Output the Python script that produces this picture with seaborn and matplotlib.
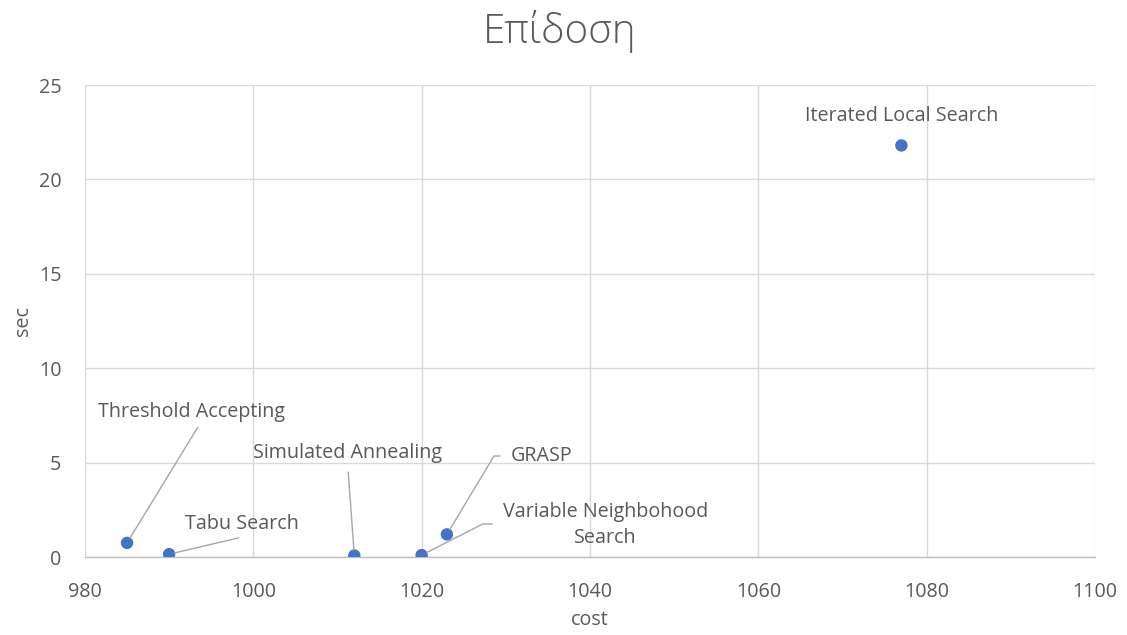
import matplotlib
matplotlib.use("Agg")
import matplotlib.pyplot as plt
import seaborn as sns
import pandas as pd

# Algorithm performance: solution cost vs. runtime in seconds
algorithms = ["Threshold Accepting", "Tabu Search", "Simulated Annealing",
              "Variable Neighbohood\nSearch", "GRASP", "Iterated Local Search"]
cost = [985, 990, 1012, 1020, 1023, 1077]
sec = [0.75, 0.15, 0.08, 0.1, 1.2, 21.8]

x_ticks = [980, 1000, 1020, 1040, 1060, 1080, 1100]
y_ticks = [0, 5, 10, 15, 20, 25]

# label placement (data coords), leader-line style per label
label_pos = [(992.7, 7.7), (998.6, 1.75), (1011.2, 5.5),
             (1041.8, 1.7), (1034.2, 5.35), (1077.0, 23.35)]
leader = ["straight", "straight", "straight", "elbow", "elbow", None]
elbow_angle = [None, None, None, 27, 59, None]
relpos = [(0.55, 0.0), (0.62, 0.0), (0.5, 0.0), (0.0, 0.52), (0.0, 0.5), None]
gap = [2, 2, 4, 5, 5, None]

df = pd.DataFrame({"algorithm": algorithms, "cost": cost, "sec": sec})

sns.set_theme(style="white")
plt.rcParams["font.family"] = ["Open Sans", "DejaVu Sans"]

text_gray = "#595959"
grid_gray = "#d9d9d9"
fs = 14.2

fig = plt.figure(figsize=(11.27, 6.35), dpi=100)
ax = fig.add_axes([0.0754, 0.1228, 0.8962, 0.7433])

sns.scatterplot(data=df, x="cost", y="sec", ax=ax, s=80, color="#4472C4",
                edgecolor="none", zorder=3, legend=False)

ax.set_xlim(x_ticks[0], x_ticks[-1])
ax.set_ylim(y_ticks[0], y_ticks[-1])
ax.set_xticks(x_ticks)
ax.set_yticks(y_ticks)
ax.grid(True, color=grid_gray, linewidth=1.0)
ax.set_axisbelow(True)
for side in ["top", "right", "left"]:
    ax.spines[side].set_visible(False)
ax.spines["bottom"].set_color("#bfbfbf")
ax.spines["bottom"].set_linewidth(1.0)
ax.tick_params(axis="both", length=0, labelsize=fs, labelcolor=text_gray)
ax.tick_params(axis="x", pad=18)
ax.tick_params(axis="y", pad=17)

ax.set_xlabel("cost", fontsize=fs, color=text_gray, labelpad=6)
ax.set_ylabel("sec", fontsize=fs, color=text_gray, labelpad=4)
fig.suptitle("Επίδοση", x=0.497, y=0.985, fontsize=29, color=text_gray,
             fontweight="light")

for name, cx, cy, (tx, ty), kind, ang, rp, g in zip(
        df["algorithm"], df["cost"], df["sec"], label_pos, leader,
        elbow_angle, relpos, gap):
    if kind is None:
        ax.annotate(name, xy=(cx, cy), xytext=(tx, ty), ha="center", va="center",
                    fontsize=fs, color=text_gray)
        continue
    if kind == "straight":
        cs = "arc3,rad=0"
    else:
        cs = f"angle,angleA=0,angleB={ang},rad=0"
    ax.annotate(name, xy=(cx, cy), xytext=(tx, ty), ha="center", va="center",
                fontsize=fs, color=text_gray, multialignment="center",
                linespacing=1.45,
                arrowprops=dict(arrowstyle="-", color="#a6a6a6", lw=1.0,
                                connectionstyle=cs, relpos=rp,
                                shrinkA=g, shrinkB=4))

fig.savefig("out.png", dpi=100)
